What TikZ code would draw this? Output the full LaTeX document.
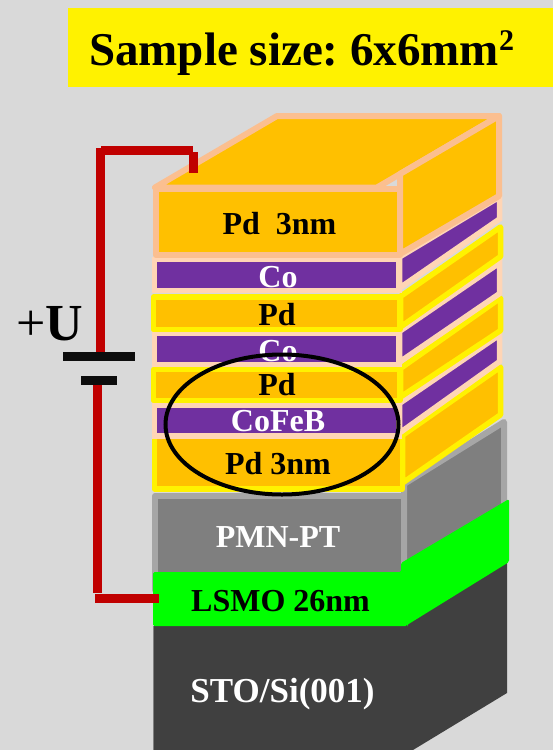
\documentclass[tikz,border=0pt]{standalone}
\usepackage{fontspec}
\setmainfont{Liberation Serif}
\definecolor{bg}{HTML}{D9D9D9}
\definecolor{pdfill}{HTML}{FFC000}
\definecolor{purp}{HTML}{7030A0}
\definecolor{peach}{HTML}{FBBF90}
\definecolor{lpeach}{HTML}{FFD5B5}
\definecolor{wire}{HTML}{C00000}
\definecolor{gedge}{HTML}{A6A6A6}
\definecolor{gfill}{HTML}{7F7F7F}
\definecolor{sto}{HTML}{404040}
\tikzset{
  pdtop/.style={fill=pdfill,draw=peach,line width=6pt,line join=round},
  copart/.style={fill=purp,draw=lpeach,line width=5.5pt,line join=miter},
  pdy/.style={fill=pdfill,draw=yellow,line width=5.5pt,line join=round},
  gpart/.style={fill=gfill,draw=gedge,line width=6pt,line join=round},
  wireline/.style={draw=wire,line width=9pt},
  batplate/.style={fill=black!95,draw=none},
  lab/.style={font=\bfseries\fontsize{32}{32}\selectfont,inner sep=0pt,anchor=base},
}
\begin{document}
\frenchspacing
\begin{tikzpicture}[x=1pt,y=-1pt]
\useasboundingbox (0,0) rectangle (553,750);
\fill[bg] (0,0) rectangle (553,750);
% header
\fill[yellow] (68,8) rectangle (553,87);
\node[inner sep=0pt,anchor=base west,font=\bfseries\fontsize{47}{47}\selectfont] (title) at (89,65) {Sample size: 6x6mm{\fontsize{30}{30}\selectfont\raisebox{15pt}{2}}};
% substrate
\fill[sto] (153,626) -- (153,750) -- (413,750) -- (507,693) -- (507,560) -- (407,624) -- cycle;
\draw[gray,line width=1pt] (153.5,626) -- (153.5,750);
% PMN-PT
\draw[gpart] (404,484) -- (504,422) -- (504,520) -- (404,580) -- cycle;
\draw[gpart] (155,496) rectangle (403.5,590);
% LSMO
\fill[green,rounded corners=1.5pt] (153,572) -- (401,572) -- (401,563) -- (509,499) -- (509,562) -- (407,625) -- (407,626) -- (153,626) -- cycle;
% bottom Pd
\draw[pdy] (402.5,435.3) -- (500.5,367) -- (500.5,414.8) -- (402.5,483) -- cycle;
\draw[pdy] (154.5,436) rectangle (402.5,489);
% CoFeB
\draw[copart] (399.5,403.4) -- (499.5,335) -- (499.5,361.6) -- (399.5,433) -- cycle;
\draw[copart] (154.5,405) rectangle (399,436);
% Pd 3
\draw[pdy] (400.5,368.4) -- (500.5,298) -- (500.5,330.6) -- (400.5,397) -- cycle;
\draw[pdy] (153.5,369.5) rectangle (400,400.5);
% Co 2
\draw[copart] (399.5,331.4) -- (499.5,263) -- (499.5,293.6) -- (399.5,362) -- cycle;
\draw[copart] (154.5,333.5) rectangle (399,364.5);
% Pd 2
\draw[pdy] (400.5,296.4) -- (500.5,227) -- (500.5,256.6) -- (400.5,327) -- cycle;
\draw[pdy] (153.5,297) rectangle (400,329.5);
% Co 1
\draw[copart] (399.5,257) -- (499.5,197) -- (499.5,219) -- (399.5,288) -- cycle;
\draw[copart] (154.5,259.5) rectangle (399,290.5);
% top Pd
\draw[pdtop] (155,187.5) -- (277,116) -- (499,116) -- (377,187.5) -- cycle;
\draw[pdtop] (400,174) -- (499,116) -- (499,196) -- (400,254) -- cycle;
\draw[pdtop] (156,188.5) rectangle (400,255);
% labels
\node[lab] (pd1) at (279.5,234) {Pd\ \ 3nm};
\node[lab,text=white] (co1) at (278,287) {Co};
\node[lab] (pd2) at (277,325) {Pd};
\node[lab,text=white] (co2) at (278,361) {Co};
\node[lab] (pd3) at (277,395.5) {Pd};
\node[lab,text=white] (cofeb) at (278,431.5) {CoFeB};
\node[lab] (pd4) at (278,474) {Pd 3nm};
\node[lab,text=white] (pmn) at (278,547) {PMN-PT};
\node[lab] (lsmo) at (280.5,611) {LSMO 26nm};
\node[lab,text=white,font=\bfseries\fontsize{35}{35}\selectfont] (stosi) at (282.5,702) {STO/Si(001)};
% ellipse
\draw[black,line width=4pt] (282,424.5) ellipse [x radius=116.5,y radius=70];
% battery and wires
\coordinate (topc) at (193,173);
\coordinate (botc) at (159,598.5);
\fill[batplate] (63,352) rectangle (135,361);
\fill[batplate] (81,376) rectangle (117,385);
\coordinate (plus) at (100,352);
\coordinate (minus) at (97,385);
\draw[wireline] (plus) -- (100,148);
\draw[wireline] (101,150) -- (193,150);
\draw[wireline] (193,152) -- (topc);
\draw[wireline] (minus) -- (97,593);
\draw[wireline] (95,598.5) -- (botc);
\node[inner sep=0pt,anchor=base west,font=\fontsize{52}{52}\selectfont] (u) at (16,340) {+\textbf{U}};
\end{tikzpicture}
\end{document}
